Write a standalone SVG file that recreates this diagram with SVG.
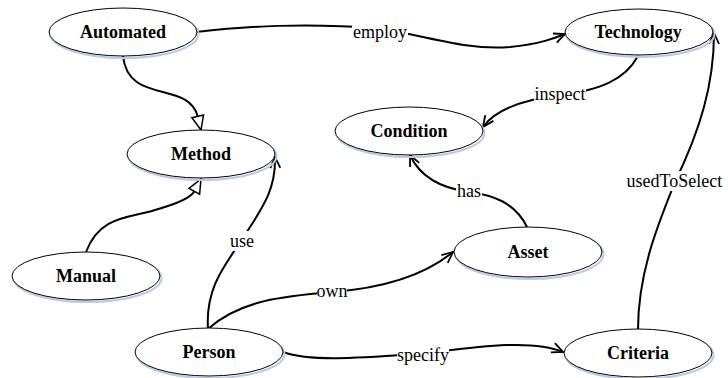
<svg xmlns="http://www.w3.org/2000/svg" width="728" height="378" viewBox="0 0 728 378">
<rect width="728" height="378" fill="#fff"/>
<g id="connectors" fill="none" stroke="#000" stroke-width="2">
<path d="M123,56 C128,105 188,80 197.7,116.4"/>
<path d="M86,252 C100,215 130,218 155,210 C180,203 192,196 194.3,191.3"/>
<path d="M208,329 C205,285 228,262 245,235 C262,208 276,190 275,157"/>
<path d="M208,329 C240,300 285,296 332,292 C385,288 425,275 453,252"/>
<path d="M283,352 C310,362 360,358 420,354 C470,348 530,338 563,352"/>
<path d="M527,227 C515,202 492,195 469,192 C440,188 420,177 410,155"/>
<path d="M638,330 C638,270 660,220 675,182 C700,130 714,85 714,33"/>
<path d="M196,32 C250,26 300,23 380,28 C440,40 470,50 510,47 C540,44 555,38 565,34"/>
<path d="M638,56 C625,80 600,90 560,95 C520,100 495,110 483,127"/>
<g id="hollow-heads" fill="#fff" stroke-width="1.5" stroke-linejoin="miter">
<path d="M201,130 L191.9,117.8 L203.5,115 Z"/>
<path d="M201,179 L199.6,194.2 L189,188.4 Z"/>
</g>
<g id="open-heads" stroke-width="1.8" stroke-linejoin="miter">
<path d="M270.3,168.2 L275,157 L280.3,167.8"/>
<path d="M447.7,262.9 L453,252 L441.3,255.1"/>
<path d="M550.9,352.3 L563,352 L554.9,343.1"/>
<path d="M419.2,162.9 L410,155 L410.1,167.1"/>
<path d="M719,44 L714,33 L709,44"/>
<path d="M556.7,42.7 L565,34 L552.9,33.5"/>
<path d="M485.2,115.1 L483,127 L493.4,120.9"/>
</g>
</g>
<g id="edge-labels">
<g fill="#fff">
<rect x="352" y="22" width="56" height="20"/>
<rect x="534" y="84" width="52" height="20"/>
<rect x="456" y="181" width="26" height="20"/>
<rect x="627" y="171" width="97" height="20"/>
<rect x="229" y="231" width="26" height="20"/>
<rect x="317" y="281" width="30" height="20"/>
<rect x="397" y="345" width="52" height="22"/>
</g>
<text x="353" y="38" font-size="18" font-family="'Liberation Serif'">employ</text>
<text x="534.5" y="100" font-size="18" font-family="'Liberation Serif'">inspect</text>
<text x="457" y="197" font-size="18" font-family="'Liberation Serif'">has</text>
<text x="626.5" y="187" font-size="18" font-family="'Liberation Serif'">usedToSelect</text>
<text x="230" y="247" font-size="18" font-family="'Liberation Serif'">use</text>
<text x="316.5" y="297" font-size="18" font-family="'Liberation Serif'">own</text>
<text x="397" y="361" font-size="18" font-family="'Liberation Serif'">specify</text>
</g>
<g id="nodes">
<g id="node-automated"><ellipse cx="124.5" cy="34" rx="74" ry="24" fill="none" stroke="#b7cce4" stroke-width="2"/><ellipse cx="123" cy="32" rx="74" ry="24" fill="#fff" stroke="#000"/><text x="80" y="38" font-size="18" font-weight="bold" font-family="'Liberation Serif'">Automated</text></g>
<g id="node-technology"><ellipse cx="640.5" cy="34" rx="74" ry="23" fill="none" stroke="#b7cce4" stroke-width="2"/><ellipse cx="639" cy="32" rx="74" ry="23" fill="#fff" stroke="#000"/><text x="594.5" y="38" font-size="18" font-weight="bold" font-family="'Liberation Serif'">Technology</text></g>
<g id="node-condition"><ellipse cx="410.5" cy="133" rx="74" ry="24" fill="none" stroke="#b7cce4" stroke-width="2"/><ellipse cx="409" cy="131" rx="74" ry="24" fill="#fff" stroke="#000"/><text x="370.5" y="137" font-size="18" font-weight="bold" font-family="'Liberation Serif'">Condition</text></g>
<g id="node-method"><ellipse cx="202.5" cy="156" rx="74" ry="24" fill="none" stroke="#b7cce4" stroke-width="2"/><ellipse cx="201" cy="154" rx="74" ry="24" fill="#fff" stroke="#000"/><text x="171" y="160" font-size="18" font-weight="bold" font-family="'Liberation Serif'">Method</text></g>
<g id="node-manual"><ellipse cx="87.5" cy="278" rx="74" ry="24" fill="none" stroke="#b7cce4" stroke-width="2"/><ellipse cx="86" cy="276" rx="74" ry="24" fill="#fff" stroke="#000"/><text x="56" y="282" font-size="18" font-weight="bold" font-family="'Liberation Serif'">Manual</text></g>
<g id="node-asset"><ellipse cx="529.5" cy="254" rx="74" ry="25" fill="none" stroke="#b7cce4" stroke-width="2"/><ellipse cx="528" cy="252" rx="74" ry="25" fill="#fff" stroke="#000"/><text x="507.5" y="258" font-size="18" font-weight="bold" font-family="'Liberation Serif'">Asset</text></g>
<g id="node-person"><ellipse cx="210.5" cy="354" rx="74" ry="24" fill="none" stroke="#b7cce4" stroke-width="2"/><ellipse cx="209" cy="352" rx="74" ry="24" fill="#fff" stroke="#000"/><text x="182.5" y="358" font-size="18" font-weight="bold" font-family="'Liberation Serif'">Person</text></g>
<g id="node-criteria"><ellipse cx="639.5" cy="355" rx="74" ry="24" fill="none" stroke="#b7cce4" stroke-width="2"/><ellipse cx="638" cy="353" rx="74" ry="24" fill="#fff" stroke="#000"/><text x="607" y="359" font-size="18" font-weight="bold" font-family="'Liberation Serif'">Criteria</text></g>
</g>
</svg>
